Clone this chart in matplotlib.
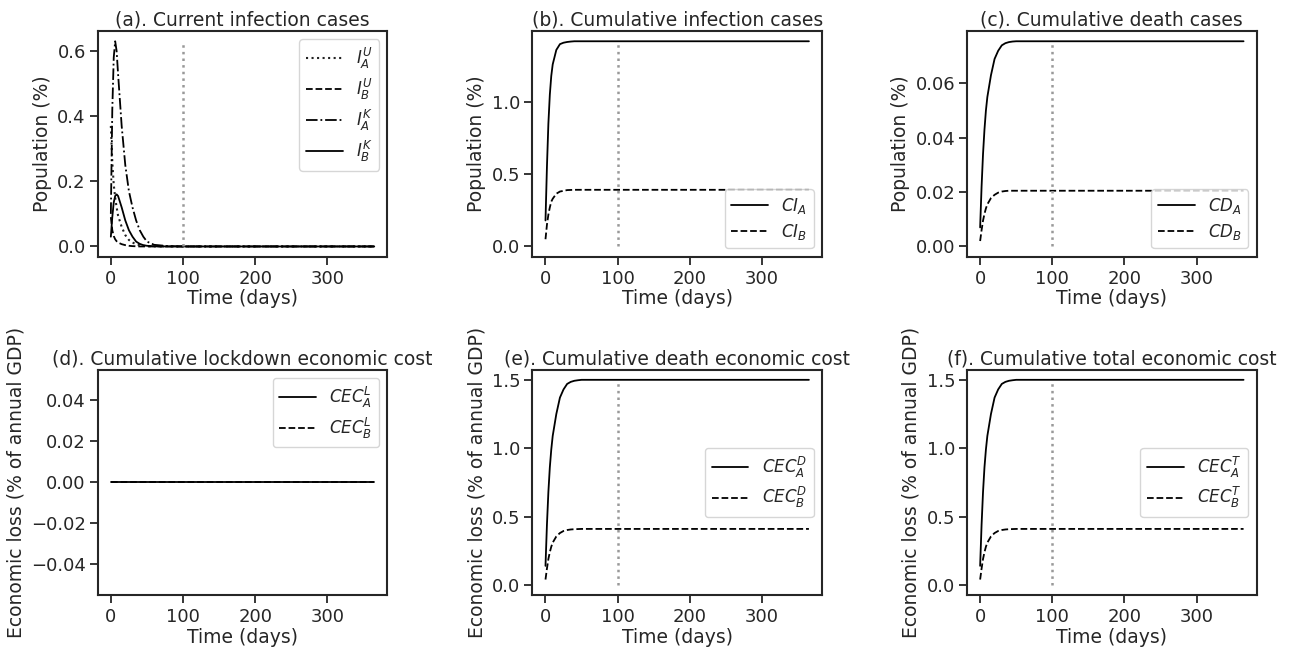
import matplotlib
matplotlib.use("Agg")
import matplotlib.pyplot as plt
import seaborn as sns

days = [0, 2, 4, 6, 8, 10, 15, 20, 25, 30, 35, 40, 45, 50, 60, 80, 100, 150, 200, 250, 300, 365]

# (a) current infection cases (%)
IA_U = [0.37, 0.26, 0.19, 0.15, 0.12, 0.095, 0.06, 0.035, 0.02, 0.012, 0.007, 0.004, 0.002, 0.001, 0.0, 0.0, 0.0, 0.0, 0.0, 0.0, 0.0, 0.0]
IB_U = [0.09, 0.05, 0.032, 0.022, 0.016, 0.012, 0.007, 0.004, 0.002, 0.001, 0.0005, 0.0, 0.0, 0.0, 0.0, 0.0, 0.0, 0.0, 0.0, 0.0, 0.0, 0.0]
IA_K = [0.10, 0.42, 0.58, 0.63, 0.60, 0.53, 0.37, 0.25, 0.17, 0.12, 0.08, 0.05, 0.03, 0.015, 0.005, 0.001, 0.0, 0.0, 0.0, 0.0, 0.0, 0.0]
IB_K = [0.03, 0.09, 0.135, 0.155, 0.16, 0.155, 0.12, 0.08, 0.05, 0.03, 0.015, 0.008, 0.004, 0.002, 0.0005, 0.0, 0.0, 0.0, 0.0, 0.0, 0.0, 0.0]

# (b) cumulative infection cases (%)
CI_A = [0.18, 0.55, 0.85, 1.05, 1.18, 1.26, 1.36, 1.40, 1.41, 1.415, 1.418, 1.42, 1.42, 1.42, 1.42, 1.42, 1.42, 1.42, 1.42, 1.42, 1.42, 1.42]
CI_B = [0.05, 0.15, 0.22, 0.27, 0.31, 0.33, 0.365, 0.38, 0.385, 0.39, 0.391, 0.392, 0.392, 0.392, 0.392, 0.392, 0.392, 0.392, 0.392, 0.392, 0.392, 0.392]

# (c) cumulative death cases (%)
CD_A = [0.007, 0.022, 0.034, 0.043, 0.050, 0.055, 0.063, 0.069, 0.072, 0.074, 0.0748, 0.0752, 0.0754, 0.0755, 0.0755, 0.0755, 0.0755, 0.0755, 0.0755, 0.0755, 0.0755, 0.0755]
CD_B = [0.002, 0.006, 0.0095, 0.012, 0.014, 0.0155, 0.0178, 0.019, 0.0198, 0.0202, 0.0204, 0.0205, 0.0205, 0.0205, 0.0205, 0.0205, 0.0205, 0.0205, 0.0205, 0.0205, 0.0205, 0.0205]

# (d) cumulative lockdown economic cost (% of annual GDP)
CEC_L_A = [0.0] * len(days)
CEC_L_B = [0.0] * len(days)

# (e) cumulative death economic cost
CEC_D_A = [0.14, 0.44, 0.68, 0.86, 0.99, 1.09, 1.25, 1.37, 1.43, 1.47, 1.485, 1.493, 1.497, 1.50, 1.50, 1.50, 1.50, 1.50, 1.50, 1.50, 1.50, 1.50]
CEC_D_B = [0.04, 0.12, 0.19, 0.24, 0.28, 0.31, 0.355, 0.38, 0.395, 0.402, 0.406, 0.408, 0.409, 0.41, 0.41, 0.41, 0.41, 0.41, 0.41, 0.41, 0.41, 0.41]

# (f) cumulative total economic cost
CEC_T_A = [0.14, 0.44, 0.68, 0.86, 0.99, 1.09, 1.25, 1.37, 1.43, 1.47, 1.485, 1.493, 1.497, 1.50, 1.50, 1.50, 1.50, 1.50, 1.50, 1.50, 1.50, 1.50]
CEC_T_B = [0.04, 0.12, 0.19, 0.24, 0.28, 0.31, 0.355, 0.38, 0.395, 0.402, 0.406, 0.408, 0.409, 0.41, 0.41, 0.41, 0.41, 0.41, 0.41, 0.41, 0.41, 0.41]

lockdown_end = 100

sns.set_style("ticks")
plt.rcParams['font.family'] = ['DejaVu Sans']
plt.rcParams['axes.linewidth'] = 1.5
plt.rcParams['axes.edgecolor'] = '#262626'
plt.rcParams['xtick.major.width'] = 1.3
plt.rcParams['ytick.major.width'] = 1.3
plt.rcParams['xtick.major.size'] = 6
plt.rcParams['ytick.major.size'] = 6
plt.rcParams['xtick.major.pad'] = 3.5
plt.rcParams['ytick.major.pad'] = 2.5
plt.rcParams['xtick.labelsize'] = 13
plt.rcParams['ytick.labelsize'] = 13
plt.rcParams['axes.labelsize'] = 13.5
plt.rcParams['axes.titlesize'] = 13.5
plt.rcParams['legend.fontsize'] = 12
plt.rcParams['legend.labelspacing'] = 0.35
plt.rcParams['legend.handlelength'] = 2.2

fig, axes = plt.subplots(2, 3, figsize=(12.92, 6.5), dpi=100)
plt.subplots_adjust(left=0.0756, right=0.9727, top=0.9523, bottom=0.0842, wspace=0.5, hspace=0.5)

vcol = '#999999'
lw = 1.3


def vline(ax, top):
    ax.vlines(lockdown_end, 0, top, colors=vcol, linestyles=':', linewidth=1.8)


# (a)
ax = axes[0, 0]
ax.plot(days, IA_U, color='#222222', linestyle=':', lw=lw + 0.2, label='$I_A^U$')
ax.plot(days, IB_U, color='black', linestyle='--', lw=lw, label='$I_B^U$')
ax.plot(days, IA_K, color='black', linestyle='-.', lw=lw, label='$I_A^K$')
ax.plot(days, IB_K, color='black', linestyle='-', lw=lw, label='$I_B^K$')
vline(ax, max(IA_K))
ax.set_title('(a). Current infection cases')
ax.set_ylabel('Population (%)')
ax.legend(loc='upper right')

# (b)
ax = axes[0, 1]
ax.plot(days, CI_A, color='black', linestyle='-', lw=lw, label='$CI_A$')
ax.plot(days, CI_B, color='black', linestyle='--', lw=lw, label='$CI_B$')
vline(ax, max(CI_A))
ax.set_title('(b). Cumulative infection cases')
ax.set_ylabel('Population (%)')
ax.legend(loc='lower right')

# (c)
ax = axes[0, 2]
ax.plot(days, CD_A, color='black', linestyle='-', lw=lw, label='$CD_A$')
ax.plot(days, CD_B, color='black', linestyle='--', lw=lw, label='$CD_B$')
vline(ax, max(CD_A))
ax.set_title('(c). Cumulative death cases')
ax.set_ylabel('Population (%)')
ax.legend(loc='lower right')

# (d)
ax = axes[1, 0]
ax.plot(days, CEC_L_A, color='black', linestyle='-', lw=lw, label='$CEC_A^L$')
ax.plot(days, CEC_L_B, color='black', linestyle='--', lw=lw, label='$CEC_B^L$')
ax.set_title('(d). Cumulative lockdown economic cost')
ax.set_ylabel('Economic loss (% of annual GDP)')
ax.legend(loc='upper right')

# (e)
ax = axes[1, 1]
ax.plot(days, CEC_D_A, color='black', linestyle='-', lw=lw, label='$CEC_A^D$')
ax.plot(days, CEC_D_B, color='black', linestyle='--', lw=lw, label='$CEC_B^D$')
vline(ax, max(CEC_D_A))
ax.set_title('(e). Cumulative death economic cost')
ax.set_ylabel('Economic loss (% of annual GDP)')
ax.legend(loc='center right')

# (f)
ax = axes[1, 2]
ax.plot(days, CEC_T_A, color='black', linestyle='-', lw=lw, label='$CEC_A^T$')
ax.plot(days, CEC_T_B, color='black', linestyle='--', lw=lw, label='$CEC_B^T$')
vline(ax, max(CEC_T_A))
ax.set_title('(f). Cumulative total economic cost')
ax.set_ylabel('Economic loss (% of annual GDP)')
ax.legend(loc='center right')

for ax in axes.flat:
    ax.set_xlabel('Time (days)', labelpad=1)
    ax.set_xticks([0, 100, 200, 300])
    ax.set_title(ax.get_title(), pad=4)

plt.savefig('out.png', dpi=100)
